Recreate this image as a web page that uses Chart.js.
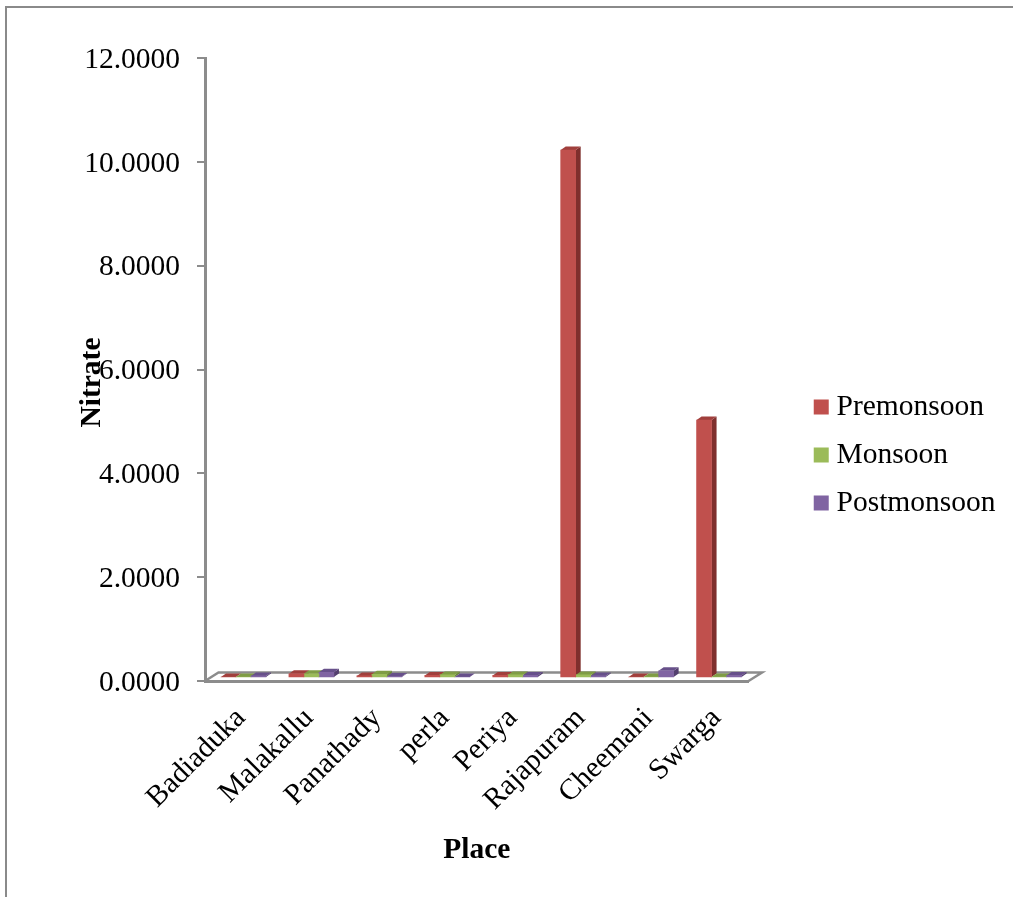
<!DOCTYPE html>
<html>
<head>
<meta charset="utf-8">
<title>Nitrate by place</title>
<script src="https://cdn.jsdelivr.net/npm/chart.js@4"></script>
<style>
  html, body { margin: 0; padding: 0; background: #fff; overflow: hidden; }
  #wrap { position: relative; width: 1013px; height: 897px; }
  #frame { position: absolute; left: 5px; top: 6px; right: 0; bottom: 0; border-top: 2px solid #8a8a8a; border-left: 2px solid #8a8a8a; }
  canvas { position: absolute; left: 0; top: 0; }
</style>
</head>
<body>
<div id="wrap">
  <div id="frame"></div>
  <canvas id="nitrateChart" width="1013" height="897"></canvas>
</div>
<script>
const places = ["Badiaduka", "Malakallu", "Panathady", "perla", "Periya", "Rajapuram", "Cheemani", "Swarga"];
const premonsoon = [0.02, 0.08, 0.04, 0.05, 0.05, 10.17, 0.02, 4.97];
const monsoon = [0.02, 0.08, 0.07, 0.06, 0.06, 0.06, 0.02, 0.02];
const postmonsoon = [0.04, 0.11, 0.03, 0.02, 0.05, 0.04, 0.14, 0.05];

const FONT = "'Liberation Serif', serif";
const FONT_SIZE = 29.5;
const GREY = "#8c8c8c";

// front colour, top face, side face
const RED = ["#c0504d", "#a03f3c", "#7f2f2d"];
const GREEN = ["#9bbb59", "#7f9c45", "#6b8539"];
const PURPLE = ["#8064a2", "#67508a", "#533f6e"];
const shades = [RED, GREEN, PURPLE];

// the bars stand a little way into the floor
const shiftX = 4.5, shiftY = -3;
// depth of a bar and of the floor
const barDX = 5, barDY = 3.5;
const floorDX = 13.5, floorDY = 8.5;

function poly(ctx, pts, fill) {
  ctx.beginPath();
  pts.forEach((p, i) => i ? ctx.lineTo(p[0], p[1]) : ctx.moveTo(p[0], p[1]));
  ctx.closePath();
  ctx.fillStyle = fill;
  ctx.fill();
}

const fake3d = {
  id: "fake3d",
  beforeDatasetsDraw(chart) {
    const ctx = chart.ctx;
    const { left, right, bottom } = chart.chartArea;

    // floor outline
    ctx.save();
    ctx.strokeStyle = GREY;
    ctx.lineWidth = 2.5;
    ctx.beginPath();
    ctx.moveTo(left, bottom);
    ctx.lineTo(left + floorDX, bottom - floorDY);
    ctx.lineTo(right + floorDX, bottom - floorDY);
    ctx.lineTo(right, bottom);
    ctx.stroke();
    ctx.restore();

    ctx.save();
    ctx.translate(shiftX, shiftY);
    chart.data.datasets.forEach((ds, i) => {
      chart.getDatasetMeta(i).data.forEach(bar => {
        const { x, y, base, width } = bar.getProps(["x", "y", "base", "width"], true);
        const l = x - width / 2, r = x + width / 2;
        poly(ctx, [[r, y], [r + barDX, y - barDY], [r + barDX, base - barDY], [r, base]], shades[i][2]);
        poly(ctx, [[l, y], [l + barDX, y - barDY], [r + barDX, y - barDY], [r, y]], shades[i][1]);
      });
    });
    // left translated so the library draws the fronts in the same place
  },
  afterDatasetsDraw(chart) {
    chart.ctx.restore();

    // y title sits lower than the axis centre and runs over the tick labels
    const ctx = chart.ctx;
    ctx.save();
    ctx.translate(92, 382.5);
    ctx.rotate(-Math.PI / 2);
    ctx.font = "bold " + FONT_SIZE + "px " + FONT;
    ctx.fillStyle = "#000";
    ctx.textAlign = "center";
    ctx.textBaseline = "middle";
    ctx.fillText("Nitrate", 0, 0);
    ctx.restore();
  }
};

new Chart(document.getElementById("nitrateChart").getContext("2d"), {
  type: "bar",
  data: {
    labels: places,
    datasets: [
      { label: "Premonsoon", data: premonsoon, backgroundColor: RED[0] },
      { label: "Monsoon", data: monsoon, backgroundColor: GREEN[0] },
      { label: "Postmonsoon", data: postmonsoon, backgroundColor: PURPLE[0] },
    ],
  },
  plugins: [fake3d],
  options: {
    responsive: false,
    animation: false,
    barThickness: 15,
    layout: { padding: { top: 58, bottom: 45, left: 0, right: 7.5 } },
    plugins: {
      tooltip: { enabled: false },
      legend: {
        position: "right",
        maxWidth: 300,
        labels: {
          color: "#000",
          font: { family: FONT, size: FONT_SIZE },
          padding: 18.5,
          boxWidth: 1,
          boxHeight: 1,
          // thick outline keeps the swatch 15px while the text stays close to it
          generateLabels(chart) {
            return Chart.defaults.plugins.legend.labels.generateLabels(chart).map((item, i) => ({
              ...item,
              lineWidth: 14,
              strokeStyle: shades[i][0],
              lineJoin: "miter",
            }));
          },
        },
      },
    },
    scales: {
      x: {
        grid: { display: false },
        border: { color: GREY, width: 3 },
        afterFit: s => { s.height = 171; },
        ticks: {
          color: "#000",
          font: { family: FONT, size: FONT_SIZE },
          autoSkip: false,
          minRotation: 45,
          maxRotation: 45,
          labelOffset: 2,
          padding: 12,
        },
        title: {
          display: true,
          text: "Place",
          color: "#000",
          font: { family: FONT, size: FONT_SIZE, weight: "bold" },
          padding: { top: 0, bottom: -16 },
        },
      },
      y: {
        min: 0,
        max: 12,
        afterFit: s => { s.width = 205; },
        border: { color: GREY, width: 3 },
        grid: { drawOnChartArea: false, color: GREY, lineWidth: 2, tickLength: 8 },
        ticks: {
          stepSize: 2,
          color: "#000",
          font: { family: FONT, size: FONT_SIZE },
          padding: 17,
          labelOffset: 2,
          callback: v => v.toFixed(4),
        },
      },
      // empty axis, only holds the gap between the plot and the legend
      gap: {
        axis: "y",
        position: "right",
        afterFit: s => { s.width = 53.7; },
        grid: { display: false },
        border: { display: false },
        ticks: { display: false },
      },
    },
  },
});
</script>
</body>
</html>
